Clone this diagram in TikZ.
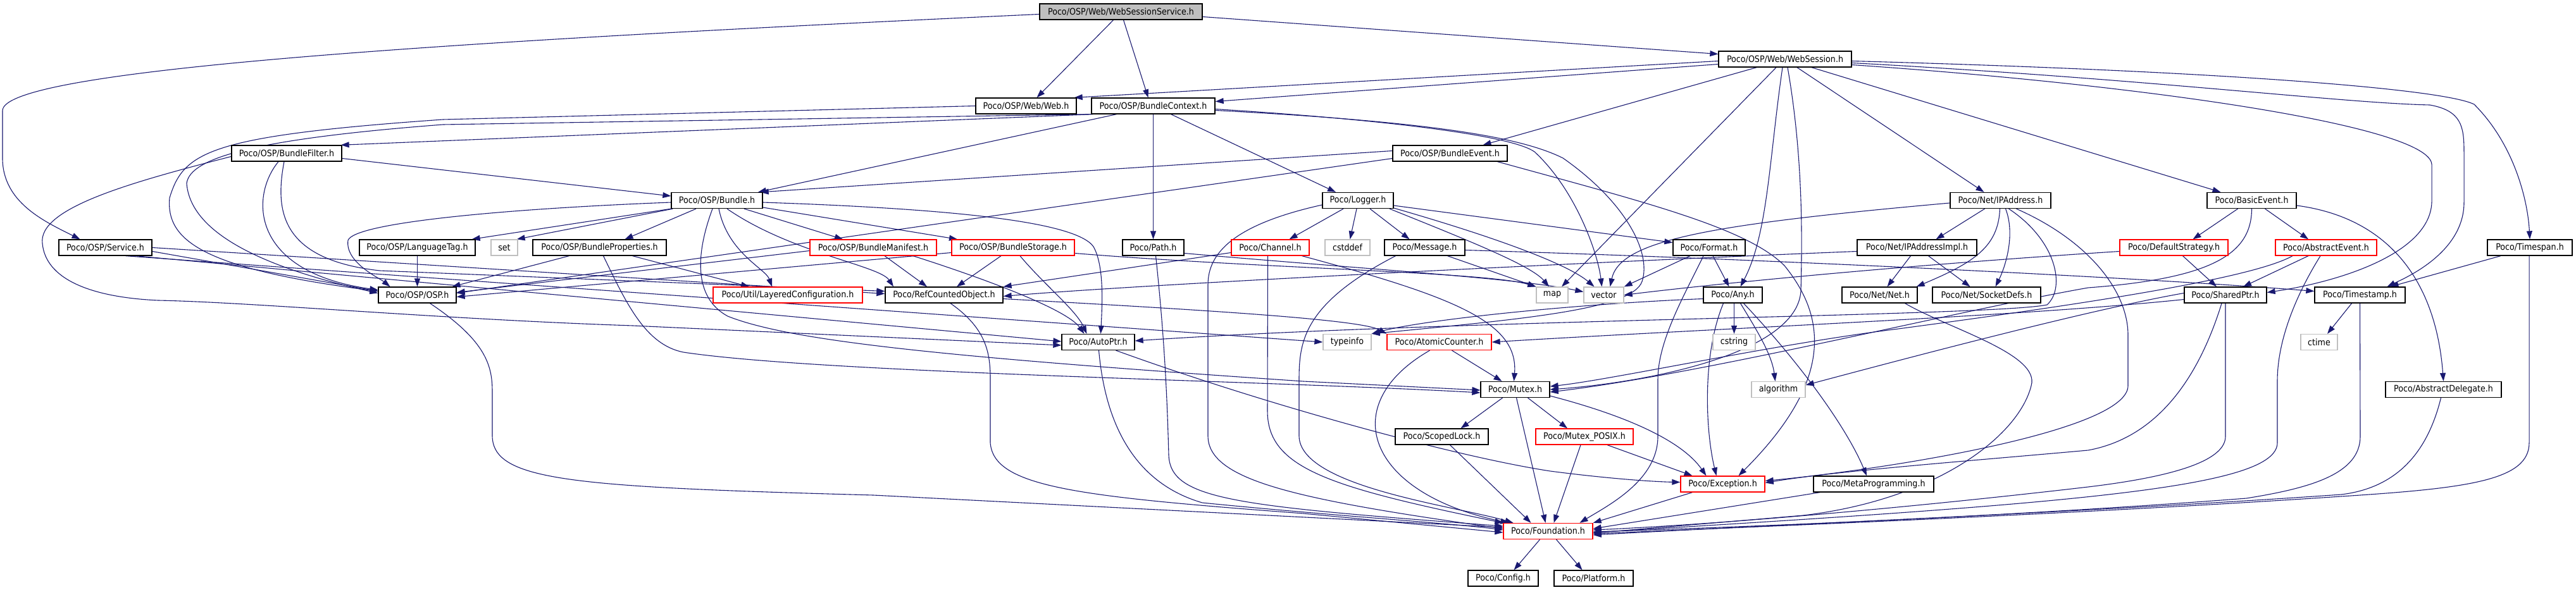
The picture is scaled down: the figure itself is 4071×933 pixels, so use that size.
\documentclass[tikz,border=0pt]{standalone}
\usepackage{fontspec}
\setmainfont{DejaVu Sans}[FakeStretch=0.9]
\usetikzlibrary{arrows.meta}
\pgfdeclarelayer{bg}
\pgfsetlayers{bg,main}
\definecolor{edgeblue}{HTML}{191970}
\definecolor{sysgrey}{HTML}{BFBFBF}
\definecolor{truncred}{HTML}{FF0000}
\tikzset{
 box/.style={draw=black, line width=1.3pt, fill=white, rectangle, minimum height=25pt, inner sep=0pt, font=\fontsize{14.1}{16}\selectfont, text=black},
 sysbox/.style={box, draw=sysgrey},
 redbox/.style={box, draw=truncred},
 rootbox/.style={box, fill=sysgrey},
 dep/.style={draw=edgeblue, line width=1.1pt, -{Triangle[length=13pt,width=9pt]}},
}
\newcommand{\mknode}[6]{\node[#5, minimum width=#4pt] (#1) at (#2,#3) {#6};}
\begin{document}
\begin{tikzpicture}[x=1pt,y=-1pt]
\useasboundingbox (0,0) rectangle (4071,933);
\mknode{wss}{1771.5}{18.5}{257}{rootbox}{Poco/OSP/Web/WebSessionService.h}
\mknode{ws}{2821}{93.5}{210}{box}{Poco/OSP/Web/WebSession.h}
\mknode{web}{1621.5}{167.5}{159}{box}{Poco/OSP/Web/Web.h}
\mknode{bc}{1822.5}{167.5}{195}{box}{Poco/OSP/BundleContext.h}
\mknode{bf}{453}{242.5}{174}{box}{Poco/OSP/BundleFilter.h}
\mknode{be}{2291.5}{242.5}{181}{box}{Poco/OSP/BundleEvent.h}
\mknode{bundle}{1133}{317}{144}{box}{Poco/OSP/Bundle.h}
\mknode{logger}{2146}{317}{112}{box}{Poco/Logger.h}
\mknode{ipa}{3161.5}{317}{159}{box}{Poco/Net/IPAddress.h}
\mknode{basic}{3558.5}{317}{141}{box}{Poco/BasicEvent.h}
\mknode{service}{166.5}{391.5}{147}{box}{Poco/OSP/Service.h}
\mknode{lang}{659.5}{391.5}{183}{box}{Poco/OSP/LanguageTag.h}
\mknode{set}{797}{391.5}{42}{sysbox}{set}
\mknode{bprops}{947.5}{391.5}{211}{box}{Poco/OSP/BundleProperties.h}
\mknode{bman}{1380}{391.5}{200}{redbox}{Poco/OSP/BundleManifest.h}
\mknode{bstor}{1601}{391.5}{194}{redbox}{Poco/OSP/BundleStorage.h}
\mknode{path}{1822.5}{391.5}{97}{box}{Poco/Path.h}
\mknode{channel}{2007.5}{391.5}{123}{redbox}{Poco/Channel.h}
\mknode{cstddef}{2129.5}{391.5}{71}{sysbox}{cstddef}
\mknode{message}{2251.5}{391.5}{127}{box}{Poco/Message.h}
\mknode{format}{2701}{391.5}{114}{box}{Poco/Format.h}
\mknode{ipaimpl}{3029.5}{391.5}{189}{box}{Poco/Net/IPAddressImpl.h}
\mknode{defstrat}{3435.5}{391.5}{171}{redbox}{Poco/DefaultStrategy.h}
\mknode{absevent}{3676}{391.5}{160}{redbox}{Poco/AbstractEvent.h}
\mknode{timespan}{3998}{391.5}{134}{box}{Poco/Timespan.h}
\mknode{osp}{659.5}{466.5}{123}{box}{Poco/OSP/OSP.h}
\mknode{layered}{1245}{466.5}{236}{redbox}{Poco/Util/LayeredConfiguration.h}
\mknode{rco}{1492}{466.5}{186}{box}{Poco/RefCountedObject.h}
\mknode{map}{2453}{466.5}{50}{sysbox}{map}
\mknode{vector}{2534.5}{466.5}{63}{sysbox}{vector}
\mknode{any}{2738.5}{466.5}{93}{box}{Poco/Any.h}
\mknode{net}{2970.5}{466.5}{119}{box}{Poco/Net/Net.h}
\mknode{sockdefs}{3139.5}{466.5}{171}{box}{Poco/Net/SocketDefs.h}
\mknode{shared}{3517}{466.5}{130}{box}{Poco/SharedPtr.h}
\mknode{timestamp}{3729.5}{466.5}{143}{box}{Poco/Timestamp.h}
\mknode{autoptr}{1735.5}{541}{115}{box}{Poco/AutoPtr.h}
\mknode{typeinfo}{2129}{541}{76}{sysbox}{typeinfo}
\mknode{atomic}{2274.5}{541}{165}{redbox}{Poco/AtomicCounter.h}
\mknode{cstring}{2740.5}{541}{67}{sysbox}{cstring}
\mknode{ctime}{3665}{541}{58}{sysbox}{ctime}
\mknode{mutex}{2394.5}{616}{109}{box}{Poco/Mutex.h}
\mknode{algorithm}{2810.5}{616}{85}{sysbox}{algorithm}
\mknode{absdel}{3861.5}{616}{183}{box}{Poco/AbstractDelegate.h}
\mknode{scoped}{2278.5}{690.5}{147}{box}{Poco/ScopedLock.h}
\mknode{mposix}{2504}{690.5}{154}{redbox}{Poco/Mutex\_POSIX.h}
\mknode{exception}{2722.5}{765.5}{133}{redbox}{Poco/Exception.h}
\mknode{meta}{2961}{765.5}{190}{box}{Poco/MetaProgramming.h}
\mknode{foundation}{2446.5}{840}{141}{redbox}{Poco/Foundation.h}
\mknode{config}{2375.5}{914.5}{111}{box}{Poco/Config.h}
\mknode{platform}{2518.5}{914.5}{125}{box}{Poco/Platform.h}

\begin{pgfonlayer}{bg}
% WebSessionService
\draw[dep] ([yshift=-4pt]wss.west) .. controls (700,66) and (4,110) .. (4,175) -- (4,250) .. controls (4,320) and (70,350) .. ([xshift=-40pt]service.north);
\draw[dep] ([xshift=-12pt]wss.south) -- ([xshift=17pt]web.north);
\draw[dep] ([xshift=4pt]wss.south) -- ([xshift=-8pt]bc.north);
\draw[dep] ([yshift=-8pt]wss.east) -- ([yshift=8pt]ws.west);
% WebSession
\draw[dep] ([yshift=-3pt]ws.west) -- ([xshift=-4pt]web.north east);
\draw[dep] ([yshift=-8pt]ws.west) -- ([yshift=7pt]bc.east);
\draw[dep] ([xshift=-45pt]ws.south) -- ([xshift=52pt]be.north);
\draw[dep] ([xshift=-14pt]ws.south) -- ([xshift=15pt]map.north);
\draw[dep] ([xshift=-4pt]ws.south) .. controls (2796,250) and (2794,370) .. ([xshift=12pt]any.north);
\draw[dep] ([xshift=4pt]ws.south) .. controls (2850,250) and (2848,380) .. (2846,460) .. controls (2840,560) and (2600,605) .. (mutex.east);
\draw[dep] ([xshift=19pt]ws.south) -- ([xshift=-26pt]ipa.north);
\draw[dep] ([xshift=42pt]ws.south) -- ([xshift=-49pt]basic.north);
\draw[dep] ([yshift=-3pt]ws.east) .. controls (3500,112) and (3860,140) .. (3910,165) .. controls (3975,230) and (3995,320) .. (timespan.north);
\draw[dep] ([yshift=-6pt]ws.east) .. controls (3400,125) and (3700,163) .. (3840,166) .. controls (3890,175) and (3894,200) .. (3894,240) -- (3894,320) .. controls (3894,400) and (3800,440) .. ([xshift=43pt]timestamp.north);
\draw[dep] ([yshift=-9pt]ws.east) .. controls (3400,135) and (3840,200) .. (3843,260) -- (3843,320) .. controls (3840,400) and (3700,445) .. ([yshift=4pt]shared.east);
% Web
\draw[dep] (web.west) -- (700,189) .. controls (330,215) and (290,240) .. (268,313) .. controls (262,380) and (320,425) .. ([yshift=6pt]osp.west);
% BundleContext
\draw[dep] (bc.south west) -- (700,197) .. controls (400,220) and (300,250) .. (295,290) .. controls (300,355) and (380,415) .. ([yshift=3pt]osp.west);
\draw[dep] ([xshift=-95pt]bc.south) -- ([xshift=-2pt]bf.north east);
\draw[dep] ([xshift=-58pt]bc.south) -- ([xshift=65pt]bundle.north);
\draw[dep] ([xshift=28pt]bc.south) -- ([xshift=-35pt]logger.north);
\draw[dep] (bc.south) -- (path.north);
\draw[dep] ([yshift=-5pt]bc.east) .. controls (2200,190) and (2390,215) .. (2425,240) .. controls (2490,300) and (2525,400) .. ([xshift=-3pt]vector.north);
\draw[dep] ([yshift=-7pt]bc.east) .. controls (2250,192) and (2400,215) .. (2470,250) .. controls (2570,320) and (2610,400) .. (2595,445) .. controls (2580,490) and (2400,505) .. (typeinfo.north east);
% BundleEvent
\draw[dep] ([yshift=4pt]be.west) -- ([xshift=-4pt]bundle.north east);
\draw[dep] ([yshift=-8pt]be.west) -- ([yshift=3pt]osp.east);
\draw[dep] ([xshift=75pt]be.south) .. controls (2600,320) and (2760,360) .. (2820,420) .. controls (2885,500) and (2900,600) .. ([xshift=25pt]exception.north);
% BundleFilter
\draw[dep] ([yshift=-8pt]bf.east) -- ([yshift=7pt]bundle.west);
\draw[dep] ([xshift=-13pt]bf.south) .. controls (395,310) and (395,430) .. ([yshift=8pt]osp.west);
\draw[dep] ([xshift=-4pt]bf.south) .. controls (435,330) and (440,410) .. (600,428) -- ([yshift=6pt]rco.west);
\draw[dep] ([yshift=-5pt]bf.west) .. controls (200,290) and (60,330) .. (67,385) .. controls (72,440) and (140,470) .. (250,475) .. controls (400,478) and (700,505) .. (1000,515) -- ([yshift=-5pt]autoptr.west);
% Bundle
\draw[dep] ([yshift=-3pt]bundle.west) .. controls (800,330) and (560,352) .. (550,380) .. controls (545,415) and (600,440) .. ([xshift=-43pt]osp.north);
\draw[dep] (bundle.south west) -- ([xshift=-6pt]lang.north east);
\draw[dep] ([xshift=3pt]bundle.south west) -- ([xshift=-2pt]set.north east);
\draw[dep] ([xshift=-33pt]bundle.south) -- ([xshift=40pt]bprops.north);
\draw[dep] ([xshift=-7pt]bundle.south) .. controls (1100,400) and (1095,470) .. (1150,500) .. controls (1250,540) and (1500,565) .. (2060,603) -- ([yshift=-1pt]mutex.west);
\draw[dep] ([xshift=3pt]bundle.south) .. controls (1150,400) and (1210,425) .. ([xshift=-25pt]layered.north);
\draw[dep] ([xshift=16pt]bundle.south) .. controls (1250,400) and (1390,420) .. ([xshift=-80pt]rco.north);
\draw[dep] ([xshift=43pt]bundle.south) -- ([xshift=-48pt]bman.north);
\draw[dep] ([yshift=-11pt]bundle.east) -- ([xshift=-88pt]bstor.north);
\draw[dep] ([yshift=-3pt]bundle.east) .. controls (1500,330) and (1700,350) .. (1728,390) .. controls (1745,420) and (1742,480) .. ([xshift=4pt]autoptr.north);
% Service
\draw[dep] ([yshift=-6pt]service.east) -- ([yshift=6pt]osp.west);
\draw[dep] (service.east) -- ([yshift=2pt]rco.west);
\draw[dep] ([xshift=48pt]service.south) -- ([yshift=1pt]autoptr.west);
\draw[dep] ([xshift=32pt]service.south) -- (typeinfo.west);
% LanguageTag, BundleProperties
\draw[dep] (lang.south) -- (osp.north);
\draw[dep] ([xshift=-48pt]bprops.south) -- ([xshift=55pt]osp.north);
\draw[dep] ([xshift=52pt]bprops.south) -- ([xshift=-61pt]layered.north);
\draw[dep] ([xshift=6pt]bprops.south) .. controls (990,480) and (1020,545) .. (1080,557) .. controls (1300,590) and (2000,602) .. ([yshift=-5pt]mutex.west);
% BundleManifest
\draw[dep] ([yshift=-5pt]bman.west) -- ([yshift=4pt]osp.east);
\draw[dep] ([xshift=18pt]bman.south) -- ([xshift=-27pt]rco.north);
\draw[dep] ([xshift=63pt]bman.south) .. controls (1600,455) and (1690,495) .. ([xshift=-22pt]autoptr.north);
% BundleStorage
\draw[dep] ([yshift=-8pt]bstor.west) -- ([yshift=-3pt]osp.east);
\draw[dep] ([xshift=-19pt]bstor.south) -- ([xshift=20pt]rco.north);
\draw[dep] ([xshift=11pt]bstor.south) .. controls (1650,450) and (1700,490) .. ([xshift=-18pt]autoptr.north);
\draw[dep] ([yshift=-9pt]bstor.east) .. controls (2000,425) and (2350,430) .. (map.north west);
% Path
\draw[dep] ([yshift=-9pt]path.east) .. controls (2150,425) and (2400,440) .. ([yshift=5pt]vector.west);
\draw[dep] ([xshift=4pt]path.south) .. controls (1842,550) and (1845,650) .. (1847,720) .. controls (1850,790) and (1950,800) .. ([yshift=8pt]foundation.west);
% Channel
\draw[dep] ([yshift=-8pt]channel.west) -- (rco.north east);
\draw[dep] ([xshift=50pt]channel.south) .. controls (2300,470) and (2400,510) .. ([xshift=-2pt]mutex.north);
\draw[dep] ([xshift=-4pt]channel.south) -- (2003,650) .. controls (2003,740) and (2100,770) .. (foundation.north west);
% Logger
\draw[dep] ([xshift=-23pt]logger.south) -- ([xshift=30pt]channel.north);
\draw[dep] ([xshift=-2pt]logger.south) -- ([xshift=4pt]cstddef.north);
\draw[dep] ([xshift=19pt]logger.south) -- ([xshift=-24pt]message.north);
\draw[dep] ([yshift=-8pt]logger.east) -- ([yshift=8pt]format.west);
\draw[dep] ([xshift=50pt]logger.south) .. controls (2320,380) and (2420,420) .. ([xshift=-5pt]map.north);
\draw[dep] ([yshift=-12pt]logger.east) .. controls (2380,380) and (2480,420) .. ([xshift=-15pt]vector.north);
\draw[dep] ([yshift=-7pt]logger.west) .. controls (1950,355) and (1909,400) .. (1909,450) -- (1909,690) .. controls (1910,760) and (2050,790) .. ([yshift=4pt]foundation.west);
% Message
\draw[dep] ([xshift=36pt]message.south) -- (map.north west);
\draw[dep] ([yshift=-4pt]message.east) .. controls (2800,410) and (3400,440) .. ([yshift=6pt]timestamp.west);
\draw[dep] ([xshift=-46pt]message.south) .. controls (2060,480) and (2053,540) .. (2053,600) -- (2053,690) .. controls (2055,770) and (2300,800) .. ([xshift=-55pt]foundation.north);
% Format
\draw[dep] ([xshift=6pt]format.south) -- ([xshift=-6pt]any.north);
\draw[dep] ([xshift=-30pt]format.south) -- (vector.north east);
\draw[dep] ([xshift=-9pt]format.south) .. controls (2660,470) and (2620,540) .. (2620,600) -- (2620,690) .. controls (2620,760) and (2540,800) .. ([xshift=50pt]foundation.north);
% IPAddress
\draw[dep] ([xshift=-25pt]ipa.south) -- ([xshift=30pt]ipaimpl.north);
\draw[dep] ([xshift=-1pt]ipa.south) .. controls (3158,390) and (3120,415) .. ([xshift=-2pt]net.north east);
\draw[dep] ([xshift=8pt]ipa.south) .. controls (3185,370) and (3170,420) .. ([xshift=14pt]sockdefs.north);
\draw[dep] ([yshift=-4pt]ipa.west) .. controls (2700,355) and (2560,380) .. ([xshift=10pt]vector.north);
\draw[dep] ([xshift=25pt]ipa.south) .. controls (3300,380) and (3363,460) .. (3363,530) -- (3363,610) .. controls (3363,680) and (3000,740) .. ([yshift=5pt]exception.east);
\draw[dep] ([xshift=13pt]ipa.south) .. controls (3250,380) and (3265,455) .. (3235,482) .. controls (3150,500) and (2300,505) .. ([yshift=2pt]autoptr.east);
% IPAddressImpl
\draw[dep] ([xshift=-10pt]ipaimpl.south) -- ([xshift=12pt]net.north);
\draw[dep] ([xshift=18pt]ipaimpl.south) -- ([xshift=-26pt]sockdefs.north);
\draw[dep] ([yshift=-6pt]ipaimpl.west) .. controls (2500,415) and (1800,450) .. ([yshift=-2pt]rco.east);
% BasicEvent
\draw[dep] ([xshift=-22pt]basic.south) -- ([xshift=30pt]defstrat.north);
\draw[dep] ([xshift=21pt]basic.south) -- ([xshift=-28pt]absevent.north);
\draw[dep] (basic.south) .. controls (3558,400) and (3500,440) .. (3300,455) .. controls (3100,490) and (2700,590) .. ([yshift=-4pt]mutex.east);
\draw[dep] ([yshift=-8pt]basic.east) .. controls (3780,345) and (3850,450) .. (absdel.north);
% DefaultStrategy, AbstractEvent
\draw[dep] ([xshift=14pt]defstrat.south) -- ([xshift=-14pt]shared.north);
\draw[dep] ([yshift=-6pt]defstrat.west) .. controls (3000,420) and (2700,450) .. (vector.east);
\draw[dep] ([xshift=-28pt]absevent.south) -- ([xshift=28pt]shared.north);
\draw[dep] ([xshift=-53pt]absevent.south) .. controls (3560,440) and (3300,480) .. (3000,520) .. controls (2800,545) and (2550,600) .. ([yshift=5pt]mutex.east);
\draw[dep] ([xshift=-9pt]absevent.south) .. controls (3645,440) and (3600,520) .. (3599,600) -- (3599,700) .. controls (3599,770) and (3300,795) .. ([yshift=-2pt]foundation.east);
% Timespan, Timestamp
\draw[dep] ([xshift=-46pt]timespan.south) -- ([xshift=48pt]timestamp.north);
\draw[dep] ([xshift=-1pt]timespan.south) -- (3997,700) .. controls (3997,760) and (3900,772) .. (3700,785) .. controls (3300,812) and (2800,832) .. ([yshift=-4pt]foundation.east);
\draw[dep] ([xshift=-13pt]timestamp.south) -- ([xshift=13pt]ctime.north);
\draw[dep] (timestamp.south) -- (3730,690) .. controls (3730,750) and (3650,772) .. (3550,788) .. controls (3200,815) and (2800,832) .. ([yshift=-1pt]foundation.east);
% SharedPtr
\draw[dep] (shared.south) -- (3517,690) .. controls (3517,725) and (3450,752) .. (3300,770) .. controls (3000,805) and (2700,830) .. ([yshift=2pt]foundation.east);
\draw[dep] ([xshift=-6pt]shared.south) .. controls (3480,580) and (3420,690) .. (3300,712) .. controls (3100,730) and (2900,745) .. ([yshift=2pt]exception.east);
\draw[dep] ([yshift=3pt]shared.west) .. controls (3300,490) and (3000,570) .. ([yshift=7pt]algorithm.east);
\draw[dep] ([yshift=-7pt]shared.west) .. controls (3200,500) and (2700,520) .. (atomic.east);
% AbstractDelegate
\draw[dep] ([xshift=-4pt]absdel.south) .. controls (3840,700) and (3800,770) .. (3700,782) .. controls (3300,810) and (2800,830) .. ([yshift=-6pt]foundation.east);
% Any
\draw[dep] ([xshift=2pt]any.south) -- (cstring.north);
\draw[dep] ([xshift=12pt]any.south) .. controls (2775,520) and (2800,560) .. ([xshift=-5pt]algorithm.north);
\draw[dep] ([xshift=17pt]any.south) .. controls (2850,580) and (2920,680) .. ([xshift=-11pt]meta.north);
\draw[dep] ([xshift=-15pt]any.south) .. controls (2690,560) and (2695,680) .. ([xshift=-10pt]exception.north);
\draw[dep] ([yshift=-6pt]any.west) .. controls (2500,480) and (2250,505) .. (typeinfo.north east);
% Net
\draw[dep] ([xshift=40pt]net.south) .. controls (3080,520) and (3225,560) .. (3210,610) .. controls (3190,690) and (3060,790) .. (2850,815) -- ([yshift=-3pt]foundation.east);
% AutoPtr, RefCountedObject, OSP
\draw[dep] ([xshift=28pt]autoptr.south) .. controls (2000,640) and (2300,722) .. (2450,745) .. controls (2550,758) and (2620,762) .. ([yshift=3pt]exception.west);
\draw[dep] ([xshift=1pt]autoptr.south) .. controls (1745,650) and (1780,760) .. (1900,795) .. controls (2100,815) and (2300,828) .. ([yshift=2pt]foundation.west);
\draw[dep] ([xshift=10pt]rco.south) .. controls (1560,520) and (1565,560) .. (1565,600) -- (1565,700) .. controls (1570,770) and (1700,785) .. (2060,812) -- ([yshift=-2pt]foundation.west);
\draw[dep] ([yshift=-6pt]rco.east) .. controls (1900,490) and (2150,505) .. (atomic.north west);
\draw[dep] ([xshift=20pt]osp.south) .. controls (770,540) and (778,580) .. (778,620) -- (778,690) .. controls (780,760) and (900,770) .. (1380,783) -- ([yshift=6pt]foundation.west);
% AtomicCounter, Mutex and below
\draw[dep] ([xshift=20pt]atomic.south) -- ([xshift=-21pt]mutex.north);
\draw[dep] ([xshift=-15pt]atomic.south) .. controls (2110,640) and (2160,780) .. ([xshift=-62pt]foundation.north);
\draw[dep] ([xshift=-20pt]mutex.south) -- ([xshift=30pt]scoped.north);
\draw[dep] ([xshift=20pt]mutex.south) -- ([xshift=-27pt]mposix.north);
\draw[dep] ([yshift=-10pt]mutex.east) .. controls (2580,660) and (2660,700) .. ([xshift=-26pt]exception.north);
\draw[dep] ([xshift=2pt]mutex.south) -- ([xshift=-4pt]foundation.north);
\draw[dep] ([xshift=13pt]scoped.south) -- ([xshift=-27pt]foundation.north);
\draw[dep] ([xshift=-6pt]mposix.south) -- ([xshift=9pt]foundation.north);
\draw[dep] ([xshift=36pt]mposix.south) -- ([xshift=-48pt]exception.north);
\draw[dep] ([xshift=-48pt]exception.south) -- (foundation.north east);
\draw[dep] ([xshift=-85pt]meta.south) -- ([yshift=4pt]foundation.east);
\draw[dep] ([xshift=-13pt]foundation.south) -- ([xshift=17pt]config.north);
\draw[dep] ([xshift=13pt]foundation.south) -- ([xshift=-18pt]platform.north);
\end{pgfonlayer}
\end{tikzpicture}
\end{document}
